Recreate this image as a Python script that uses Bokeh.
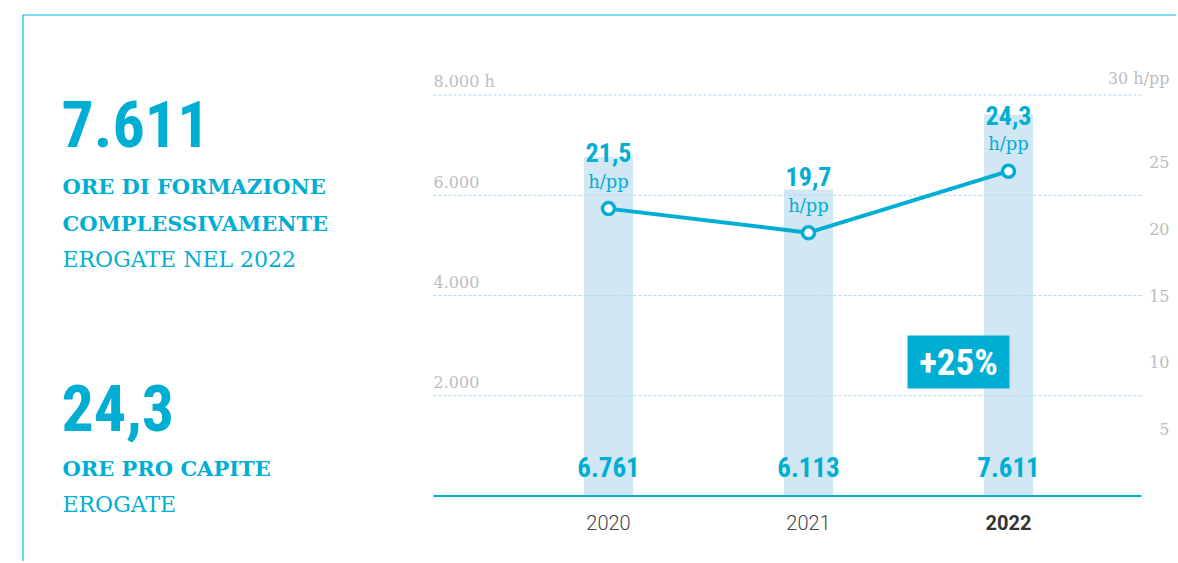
from bokeh.plotting import figure
from bokeh.models import Range1d, Label, BoxAnnotation
from bokeh.core.properties import value
from bokeh.embed import file_html
from bokeh.resources import INLINE

# ---------------- data ----------------
years = ["2020", "2021", "2022"]
hours = [6761, 6113, 7611]              # ore di formazione erogate
per_capita = [21.5, 19.7, 24.3]          # ore pro capite (h/pp)
left_ticks = [2000, 4000, 6000, 8000]
left_tick_labels = ["2.000", "4.000", "6.000", "8.000 h"]
right_ticks = [5, 10, 15, 20, 25]
right_tick_labels = ["5", "10", "15", "20", "25"]
right_top_tick = [30]
right_top_label = ["30 h/pp"]
unit_pp = ["h/pp", "h/pp", "h/pp"]

# ---------------- helpers / styles ----------------
def it_int(v):
    return f"{v:,}".replace(",", ".")

def it_dec(v):
    return f"{v:.1f}".replace(".", ",")

CYAN = "#00aed4"
FRAME = "#00b8dc"
BAR = "#d1e7f3"
GRID = "#aed8ec"
GREY = "#bdbdbd"
DARK = "#444444"

COND_S = "'Roboto Condensed', 'Liberation Sans Narrow', 'DejaVu Sans Condensed', sans-serif"
SLAB_S = "'Roboto Slab', 'DejaVu Serif', serif"
LIGHT_S = "'Roboto Light', Roboto, sans-serif"
COND = value(COND_S)
SLAB = value(SLAB_S)
LIGHT = value(LIGHT_S)
ROBOTO = value("Roboto")

BL = 0.35   # baseline correction (em) for the alphabetic anchor


def corr(size):
    return BL * size


W, H = 1176, 561
PX = 8000 / 401.0          # hours per pixel
ZERO = 495.5               # pixel row of the zero line
Y0, Y1 = -(H - ZERO) * PX, ZERO * PX
R = 30 / 8000.0

xs = list(range(len(years)))

p = figure(width=W, height=H, x_range=Range1d(-3.04, 2.84), y_range=Range1d(Y0, Y1),
           output_backend="svg", toolbar_location=None, min_border=0,
           x_axis_location=None, y_axis_location=None)
p.extra_y_ranges = {"right": Range1d(Y0 * R, Y1 * R)}
p.grid.visible = False
p.outline_line_color = None
p.background_fill_color = "white"
p.border_fill_color = "white"

# frame (top and left rule)
p.add_layout(BoxAnnotation(left=22.5, right=W + 50, top=H - 14.5, bottom=-50,
                           left_units="screen", right_units="screen",
                           top_units="screen", bottom_units="screen",
                           fill_color=None, fill_alpha=0, line_color=FRAME,
                           line_alpha=1.0, line_width=1.2))

GX0, GX1 = -0.875, 2.665

# bars
p.vbar(x=xs, top=hours, bottom=0, width=0.245, fill_color=BAR, line_color=None)

# dotted grid
p.segment(x0=[GX0] * len(left_ticks), x1=[GX1] * len(left_ticks), y0=left_ticks, y1=left_ticks,
          line_color=GRID, line_dash="3 2", line_width=1)

# baseline
p.segment(x0=[GX0], x1=[GX1], y0=[0], y1=[0], line_color=CYAN, line_width=2)

# left tick labels
p.text(x=[GX0] * len(left_ticks), y=left_ticks, text=left_tick_labels, y_offset=-8 - corr(16),
       text_align="left", text_baseline="alphabetic", text_font=SLAB,
       text_font_size="16px", text_color=GREY)

# right tick labels (cap centre on the tick)
p.text(x=[2.805] * len(right_ticks), y=right_ticks, text=right_tick_labels, y_range_name="right",
       y_offset=0.36 * 16 - corr(16),
       text_align="right", text_baseline="alphabetic", text_font=SLAB,
       text_font_size="16px", text_color=GREY)
p.text(x=[2.805], y=right_top_tick, text=right_top_label, y_range_name="right",
       y_offset=-11 - corr(16),
       text_align="right", text_baseline="alphabetic", text_font=SLAB,
       text_font_size="16px", text_color=GREY)

# per capita line
p.line(xs, per_capita, y_range_name="right", line_color=CYAN, line_width=4)
p.scatter(xs, per_capita, y_range_name="right", size=12, fill_color="white",
          line_color=CYAN, line_width=3.5)

# per capita labels
p.text(x=xs, y=per_capita, text=[it_dec(v) for v in per_capita], y_range_name="right",
       y_offset=-47 - corr(26), text_align="center", text_baseline="alphabetic", text_font=COND,
       text_font_style="bold", text_font_size="26px", text_color=CYAN)
p.text(x=xs, y=per_capita, text=unit_pp, y_range_name="right",
       y_offset=-21 - corr(18), text_align="center", text_baseline="alphabetic", text_font=SLAB,
       text_font_size="18px", text_color=CYAN)

# bar values
p.text(x=xs, y=[0] * len(xs), text=[it_int(v) for v in hours], y_offset=-20 - corr(27),
       text_align="center", text_baseline="alphabetic", text_font=COND,
       text_font_style="bold", text_font_size="27px", text_color=CYAN)

# year labels
p.text(x=xs[:-1], y=[0] * (len(xs) - 1), text=years[:-1], y_offset=33 - corr(20),
       text_align="center", text_baseline="alphabetic", text_font=LIGHT,
       text_font_size="20px", text_color=DARK)
p.text(x=xs[-1:], y=[0], text=years[-1:], y_offset=33 - corr(20),
       text_align="center", text_baseline="alphabetic", text_font=ROBOTO,
       text_font_style="bold", text_font_size="20px", text_color="#333333")

# +25% badge
pct = round((hours[-1] / hours[-2] - 1) * 100)
BX, BY = 1.75, 2673
p.rect(x=[BX], y=[BY], width=102, height=53, width_units="screen", height_units="screen",
       fill_color=CYAN, line_color=None)
p.text(x=[BX], y=[BY], text=[f"+{pct}%"], text_align="center", text_baseline="middle",
       text_font=COND, text_font_style="bold", text_font_size="37px", text_color="white")


# left key figures (row = baseline in pixels from the top)
def lab(x, row, text, font, size, style="normal", color=CYAN):
    p.add_layout(Label(x=x, y=H - row + corr(size), x_units="screen", y_units="screen", text=text,
                       text_font=font, text_font_size=f"{size}px", text_font_style=style,
                       text_color=color, text_align="left", text_baseline="alphabetic"))


lab(61, 146, it_int(hours[-1]), COND_S, 64, "bold")
lab(62, 193, "ORE DI FORMAZIONE", SLAB_S, 21, "bold")
lab(62, 230, "COMPLESSIVAMENTE", SLAB_S, 21, "bold")
lab(62, 267, f"EROGATE NEL {years[-1]}", SLAB_S, 22)
lab(61, 430, it_dec(per_capita[-1]), COND_S, 64, "bold")
lab(62, 475, "ORE PRO CAPITE", SLAB_S, 21, "bold")
lab(62, 512, "EROGATE", SLAB_S, 22)

open("out.html", "w").write(file_html(p, INLINE))
